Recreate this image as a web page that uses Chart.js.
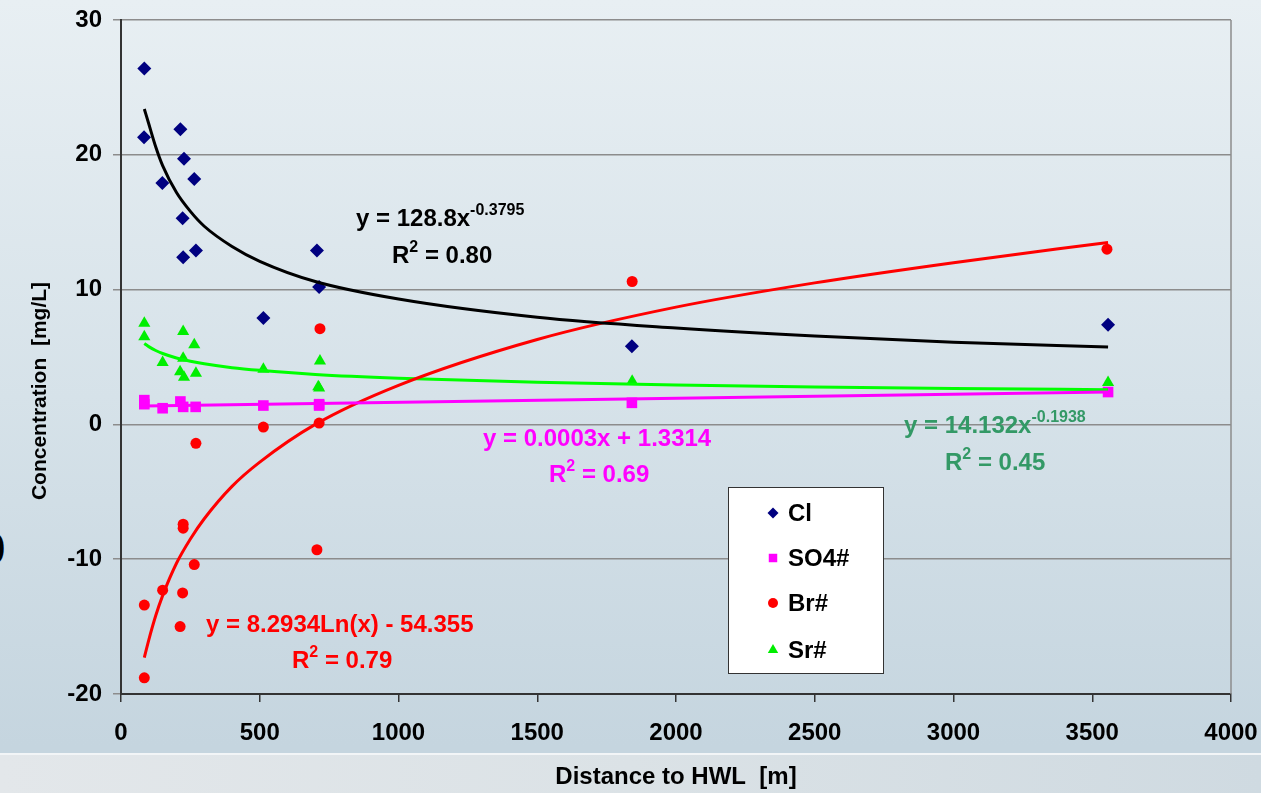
<!DOCTYPE html>
<html>
<head>
<meta charset="utf-8">
<script src="https://cdn.jsdelivr.net/npm/chart.js@4"></script>
<style>
  html, body { margin: 0; padding: 0; }
  #wrap {
    position: relative; width: 1261px; height: 793px; overflow: hidden;
    background: linear-gradient(to bottom, #e8eff3 0%, #d6e2e9 50%, #c5d5df 94%);
  }
  #band {
    position: absolute; left: 0; top: 753px; width: 1261px; height: 40px;
    border-top: 2px solid #f2f5f7;
    background: linear-gradient(to right, #e3e7ea 0%, #dbe2e6 50%, #cfdae1 100%);
  }
  #stray {
    position: absolute; left: -19px; top: 524px;
    font: bold 44px "Liberation Sans", Arial, sans-serif; color: #000;
  }
  canvas { position: absolute; left: 0; top: 0; }
</style>
</head>
<body>
<div id="wrap">
  <div id="band"></div>
  <div id="stray">0</div>
  <canvas id="chart" width="1261" height="793"></canvas>
</div>
<script>
const FONT = '"Liberation Sans", Arial, sans-serif';

// measured points
const clX = [84, 83, 214, 227, 149, 264, 222, 270, 224, 706, 714, 513, 1841, 3557];
const clY = [26.4, 21.3, 21.9, 19.7, 17.9, 18.2, 15.3, 12.9, 12.4, 12.9, 10.2, 7.9, 5.8, 7.4];

const so4X = [84, 84, 150, 214, 224, 269, 513, 714, 714, 1841, 3557];
const so4Y = [1.8, 1.5, 1.2, 1.7, 1.3, 1.3, 1.4, 1.5, 1.4, 1.6, 2.4];

const brX = [84, 84, 150, 224, 224, 264, 222, 213, 706, 717, 513, 714, 270, 1842, 3553];
const brY = [-13.4, -18.8, -12.3, -7.4, -7.7, -10.4, -12.5, -15.0, -9.3, 7.1, -0.2, 0.1, -1.4, 10.6, 13.0];

const srX = [84, 84, 224, 264, 150, 224, 213, 227, 270, 513, 717, 711, 714, 1842, 3557];
const srY = [7.5, 6.5, 6.9, 5.9, 4.6, 4.9, 3.9, 3.5, 3.8, 4.1, 4.7, 2.8, 2.7, 3.2, 3.1];

// trend curves
const trendX = [84, 100, 125, 150, 200, 250, 300, 400, 500, 700, 1000, 1500, 2000, 2500, 3000, 3557];
const clTrend = [23.4, 22.3, 20.6, 19.2, 17.2, 15.8, 14.7, 13.2, 12.1, 10.6, 9.3, 7.95, 7.15, 6.55, 6.1, 5.75];
const brTrend = [-17.3, -16.0, -14.2, -12.7, -10.3, -8.5, -7.0, -4.6, -2.8, 0.0, 2.9, 6.3, 8.7, 10.5, 12.0, 13.5];
const srTrend = [6.0, 5.77, 5.48, 5.26, 4.93, 4.69, 4.5, 4.21, 4.01, 3.71, 3.43, 3.13, 2.93, 2.78, 2.67, 2.57];
const so4TrendX = [84, 3557];
const so4Trend = [1.36, 2.40];

const xTicks = [0, 500, 1000, 1500, 2000, 2500, 3000, 3500, 4000];
const yTicks = [-20, -10, 0, 10, 20, 30];

const legendNames = ['Cl', 'SO4#', 'Br#', 'Sr#'];

function pts(xs, ys) {
  return xs.map((x, i) => ({ x: x, y: ys[i] }));
}

function markerSet(label, xs, ys, color, style, r, legendR) {
  return {
    label: label, data: pts(xs, ys), showLine: false,
    pointStyle: style, pointRadius: r, pointHoverRadius: r, legendRadius: legendR,
    backgroundColor: color, borderColor: color, borderWidth: 0, order: 2
  };
}

function trendSet(xs, ys, color) {
  return {
    label: '', data: pts(xs, ys), showLine: true, pointRadius: 0,
    borderColor: color, borderWidth: 3, cubicInterpolationMode: 'monotone',
    fill: false, order: 1
  };
}

// equations: list of [text, isSuperscript]
const equations = [
  { color: '#000000', x: 356, y: 226, parts: [['y = 128.8x', false], ['-0.3795', true]] },
  { color: '#000000', x: 392, y: 263, parts: [['R', false], ['2', true], [' = 0.80', false]] },
  { color: '#ff0000', x: 206, y: 632, parts: [['y = 8.2934Ln(x) - 54.355', false]] },
  { color: '#ff0000', x: 292, y: 668, parts: [['R', false], ['2', true], [' = 0.79', false]] },
  { color: '#ff00ff', x: 483, y: 446, parts: [['y = 0.0003x + 1.3314', false]] },
  { color: '#ff00ff', x: 549, y: 482, parts: [['R', false], ['2', true], [' = 0.69', false]] },
  { color: '#339966', x: 904, y: 433, parts: [['y = 14.132x', false], ['-0.1938', true]] },
  { color: '#339966', x: 945, y: 470, parts: [['R', false], ['2', true], [' = 0.45', false]] }
];

function noPad(s) {
  s.paddingTop = 0; s.paddingBottom = 0; s.paddingLeft = 0; s.paddingRight = 0;
}

const extras = {
  id: 'extras',
  afterDraw(chart) {
    const ctx = chart.ctx;
    const a = chart.chartArea;
    ctx.save();

    // right border of plot
    ctx.strokeStyle = '#8c8c8c';
    ctx.lineWidth = 1.5;
    ctx.beginPath();
    ctx.moveTo(a.right, a.top);
    ctx.lineTo(a.right, a.bottom);
    ctx.stroke();

    // equations
    ctx.textBaseline = 'alphabetic';
    ctx.textAlign = 'left';
    equations.forEach(eq => {
      let x = eq.x;
      ctx.fillStyle = eq.color;
      eq.parts.forEach(p => {
        if (p[1]) {
          ctx.font = 'bold 16px ' + FONT;
          ctx.fillText(p[0], x, eq.y - 11);
        } else {
          ctx.font = 'bold 24px ' + FONT;
          ctx.fillText(p[0], x, eq.y);
        }
        x += ctx.measureText(p[0]).width;
      });
    });

    // legend box
    ctx.fillStyle = '#ffffff';
    ctx.fillRect(728, 487, 155, 186);
    ctx.strokeStyle = '#333333';
    ctx.lineWidth = 1;
    ctx.strokeRect(728.5, 487.5, 155, 186);
    const rowY = [513, 558, 603, 650];
    legendNames.forEach((name, i) => {
      const ds = chart.data.datasets[i];
      ctx.fillStyle = ds.backgroundColor;
      ctx.strokeStyle = ds.backgroundColor;
      Chart.helpers.drawPoint(ctx, { pointStyle: ds.pointStyle, radius: ds.legendRadius, borderWidth: 0 }, 773, rowY[i]);
      ctx.fillStyle = '#000000';
      ctx.font = 'bold 24px ' + FONT;
      ctx.textBaseline = 'middle';
      ctx.fillText(name, 788, rowY[i] + 1);
    });

    // axis titles
    ctx.fillStyle = '#000000';
    ctx.textAlign = 'center';
    ctx.textBaseline = 'middle';
    ctx.font = 'bold 24px ' + FONT;
    ctx.fillText('Distance to HWL  [m]', 676, 777);
    ctx.translate(40, 391);
    ctx.rotate(-Math.PI / 2);
    ctx.font = 'bold 21px ' + FONT;
    ctx.fillText('Concentration  [mg/L]', 0, 0);
    ctx.restore();
  }
};

new Chart(document.getElementById('chart').getContext('2d'), {
  type: 'scatter',
  data: {
    datasets: [
      markerSet('Cl', clX, clY, '#000080', 'rectRot', 7, 5.5),
      markerSet('SO4#', so4X, so4Y, '#ff00ff', 'rect', 7.5, 6),
      markerSet('Br#', brX, brY, '#ff0000', 'circle', 5.5, 5),
      markerSet('Sr#', srX, srY, '#00ee00', 'triangle', 7, 6),
      trendSet(trendX, clTrend, '#000000'),
      trendSet(so4TrendX, so4Trend, '#ff00ff'),
      trendSet(trendX, brTrend, '#ff0000'),
      trendSet(trendX, srTrend, '#00ff00')
    ]
  },
  options: {
    responsive: false,
    animation: false,
    devicePixelRatio: 1,
    layout: { padding: { top: 20, right: 30, left: 0, bottom: 0 } },
    plugins: { legend: { display: false }, tooltip: { enabled: false } },
    scales: {
      x: {
        type: 'linear', min: 0, max: 4000,
        afterBuildTicks: s => { s.ticks = xTicks.map(v => ({ value: v })); },
        afterFit: s => { s.height = 99; noPad(s); },
        ticks: { color: '#000', font: { family: FONT, size: 24, weight: 'bold' }, padding: 17, maxRotation: 0,
                 callback: v => String(v) },
        grid: { drawOnChartArea: false, color: '#333', tickLength: 8, lineWidth: 1.5 },
        border: { color: '#333', width: 2 }
      },
      y: {
        min: -20, max: 30,
        afterBuildTicks: s => { s.ticks = yTicks.map(v => ({ value: v })); },
        afterFit: s => { s.width = 121; noPad(s); },
        ticks: { color: '#000', font: { family: FONT, size: 24, weight: 'bold' }, padding: 11,
                 callback: v => String(v) },
        grid: { color: '#8c8c8c', tickLength: 8, lineWidth: 1.5 },
        border: { color: '#333', width: 2 }
      }
    }
  },
  plugins: [extras]
});
</script>
</body>
</html>
